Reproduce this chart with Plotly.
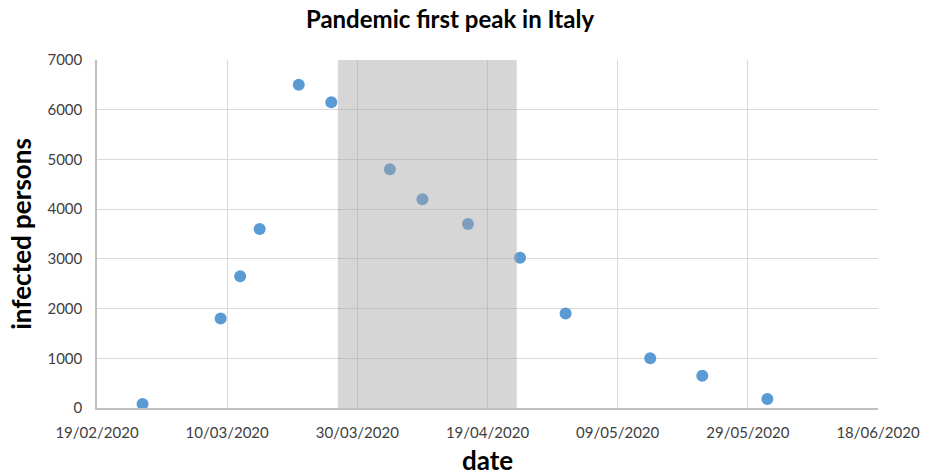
import plotly.graph_objects as go

dates = ["2020-02-26", "2020-03-09", "2020-03-12", "2020-03-15", "2020-03-21",
         "2020-03-26", "2020-04-04", "2020-04-09", "2020-04-16", "2020-04-24",
         "2020-05-01", "2020-05-14", "2020-05-22", "2020-06-01"]
infected = [80, 1800, 2650, 3600, 6500, 6150, 4800, 4200, 3700, 3020,
            1900, 1000, 650, 180]
peak_start = "2020-03-27"
peak_end = "2020-04-23 12:00"
x_range = ["2020-02-19", "2020-06-18"]

FONT = "Lato"

fig = go.Figure()
fig.add_trace(go.Scatter(
    x=dates, y=infected, mode="markers",
    marker=dict(color="#5b9bd5", size=12),
    showlegend=False,
))

fig.add_shape(type="rect", xref="x", yref="y",
              x0=peak_start, x1=peak_end, y0=0, y1=7000,
              fillcolor="rgba(166,163,165,0.45)", line=dict(width=0),
              layer="above")

fig.update_layout(
    width=925, height=476,
    margin=dict(l=97, r=47, t=60, b=68),
    paper_bgcolor="white", plot_bgcolor="white",
    title=dict(text="<b>Pandemic first peak in Italy</b>", x=450/925, xanchor="center",
               y=1-20/476, yanchor="middle",
               font=dict(family=FONT, size=24, color="#000000")),
    font=dict(family=FONT, size=15, color="#404040"),
)

fig.update_xaxes(
    type="date", range=x_range, automargin=False,
    tick0="2020-02-19", dtick=20 * 86400000, tickformat="%d/%m/%Y",
    showgrid=True, gridcolor="#d9d9d9", gridwidth=1,
    showline=True, linecolor="#bfbfbf", linewidth=1.5,
    ticks="", ticklabelstandoff=10,
    tickfont=dict(family=FONT, size=15, color="#404040"),
    title=dict(text="<b>date</b>", font=dict(family=FONT, size=26, color="#000000"), standoff=16),
    zeroline=False,
)
fig.update_yaxes(
    range=[0, 7000], dtick=1000, automargin=False,
    showgrid=True, gridcolor="#d9d9d9", gridwidth=1,
    showline=True, linecolor="#bfbfbf", linewidth=1.5,
    ticks="", ticklabelstandoff=10,
    tickfont=dict(family=FONT, size=15, color="#404040"),
    title=dict(text="<b>infected persons</b>", font=dict(family=FONT, size=26, color="#000000"), standoff=8),
    zeroline=False,
)

fig.write_html("out.html")
